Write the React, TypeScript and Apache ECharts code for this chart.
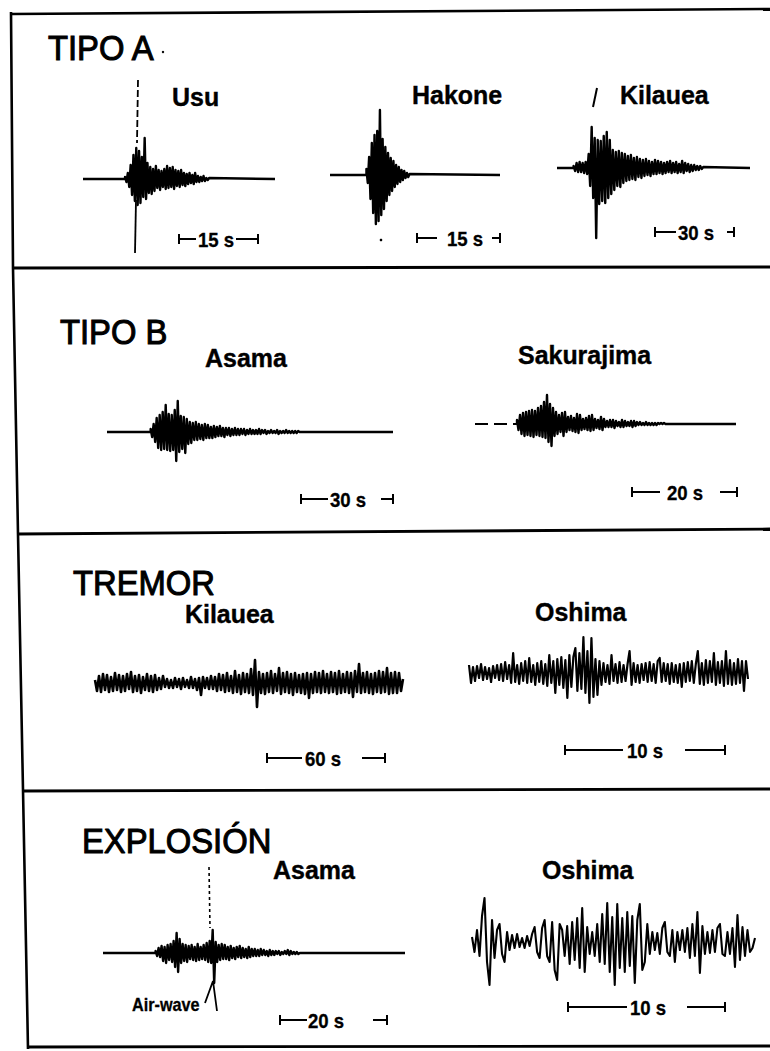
import React, { useEffect, useRef } from "react";
import * as echarts from "echarts";

// ---------------- DATA ----------------
const panelTitles = ["TIPO A", "TIPO B", "TREMOR", "EXPLOSIÓN"];
const stationNames = ["Usu", "Hakone", "Kilauea", "Asama", "Sakurajima", "Kilauea", "Oshima", "Asama", "Oshima"];
const scaleLabels = ["15 s", "15 s", "30 s", "30 s", "20 s", "60 s", "10 s", "20 s", "10 s"];
const airWaveLabel = "Air-wave";

// number of quiet (flat) samples before and after each recorded burst
const quietBefore = [30, 27, 11, 29, 28, 0, 0, 35, 0];
const quietAfter = [47, 67, 31, 62, 47, 0, 0, 70, 0];
const dashedLead = [false, false, false, false, true, false, false, false, false];

// TIPO A — Usu
const usuWave = [2, -3, 6, -8, 14, -16, 24, -22, 31, -26, 28, -24, 22, -18, 41, -20, 16, -14, 12, -15,
  10, -12, 13, -9, 9, -11, 8, -8, 10, -10, 13, -9, 11, -8, 12, -10, 9, -7, 8, -8,
  9, -6, 6, -7, 5, -5, 6, -4, 4, -5, 6, -3, 3, -3, 2, -2, 3, -2, 1, -1, 1];
// TIPO A — Hakone
const hakoneWave = [6, -8, 18, -24, 32, -38, 40, -49, 44, -46, 65, -40, 36, -34, 28, -26, 22, -20, 17, -16,
  14, -12, 10, -9, 8, -7, 5, -5, 4, -3, 2, -2, 1];
// TIPO A — Kilauea
const kilaueaAWave = [2, -3, 5, -4, 6, -4, 5, -5, 6, -6, 14, -18, 41, -30, 30, -70, 28, -36, 27, -33,
  32, -35, 36, -30, 28, -26, 18, -22, 16, -18, 17, -19, 15, -15, 14, -13, 12, -12, 13, -11,
  10, -12, 11, -9, 9, -10, 8, -8, 9, -7, 7, -8, 6, -6, 8, -6, 7, -5, 6, -6,
  5, -5, 6, -4, 7, -5, 5, -4, 6, -5, 4, -4, 7, -5, 5, -3, 4, -4, 3, -3,
  3, -2, 2, -2, 2, -1, 1];
// TIPO B — Asama
const asamaBWave = [3, -5, 8, -10, 14, -16, 17, -18, 20, -17, 27, -18, 18, -19, 17, -18, 22, -29, 31, -20,
  16, -17, 15, -21, 13, -12, 10, -11, 9, -8, 10, -8, 8, -7, 7, -8, 8, -6, 7, -6,
  5, -6, 6, -5, 5, -4, 6, -4, 4, -5, 4, -3, 4, -4, 3, -3, 4, -3, 3, -3,
  3, -2, 3, -3, 2, -2, 3, -2, 2, -2, 2, -2, 3, -2, 2, -1, 2, -2, 1, -1,
  2, -1, 1, -1, 2, -2, 1, -1, 1, -1, 2, -1, 1, -1, 1, -1, 1, -1, 1, 0];
// TIPO B — Sakurajima
const sakurajimaWave = [4, -6, 9, -10, 11, -12, 12, -11, 13, -12, 14, -13, 13, -11, 16, -12, 18, -13, 22, -14,
  29, -18, 20, -22, 16, -12, 12, -10, 9, -8, 11, -12, 12, -8, 7, -6, 8, -7, 6, -8,
  10, -9, 9, -6, 5, -5, 6, -6, 8, -7, 9, -6, 5, -4, 4, -5, 7, -6, 5, -3,
  3, -3, 4, -3, 4, -4, 3, -2, 2, -3, 4, -3, 3, -2, 2, -2, 3, -3, 3, -2,
  2, -1, 2, -1, 1, -1, 2, -1, 1, -1, 1, -1, 1, -1, 1, 0, 1, 0, 1, 0];
// TREMOR — Kilauea
const tremorKilaueaWave = [3, -8, 7, -9, 9, -7, 8, -9, 6, -8, 10, -7, 8, -9, 7, -8, 9, -6, 11, -9,
  7, -8, 8, -10, 6, -7, 9, -8, 7, -9, 8, -7, 5, -6, 7, -4, 4, -5, 3, -5,
  5, -4, 4, -6, 5, -4, 3, -5, 6, -5, 4, -7, 5, -12, 6, -5, 5, -6, 7, -6,
  6, -8, 9, -7, 8, -9, 10, -8, 7, -10, 12, -9, 8, -11, 10, -9, 9, -10, 14, -12,
  23, -24, 11, -10, 9, -11, 10, -9, 12, -10, 9, -8, 15, -11, 10, -9, 11, -10, 9, -12,
  10, -9, 8, -10, 9, -11, 10, -15, 9, -10, 11, -9, 10, -10, 12, -9, 9, -10, 11, -9,
  10, -11, 12, -10, 9, -9, 11, -10, 10, -14, 12, -9, 19, -10, 10, -9, 11, -10, 9, -11,
  10, -9, 12, -10, 11, -9, 15, -11, 10, -10, 11, -10, 10, -8, 4];
// TREMOR — Oshima
const tremorOshimaWave = [8, -10, 6, -8, 7, -5, 9, -7, 6, -6, 5, -9, 7, -5, 8, -7, 9, -8, 11, -6,
  8, -10, 20, -9, 8, -11, 10, -8, 12, -10, 15, -9, 8, -12, 10, -9, 12, -11, 9, -13,
  18, -10, 12, -20, 14, -12, 16, -15, 13, -25, 18, -14, 16, 25, -18, 20, -16, 36, -20, 22,
  -30, 35, -24, 14, -22, 12, -12, 10, -9, 8, -11, 18, -8, 9, -10, 11, -9, 8, -8, 9,
  22, -12, 10, -9, 8, -10, 9, -7, 10, -9, 11, -8, 9, -10, 12, 15, -9, 10, -8, 9,
  -11, 10, -9, 8, -10, 9, -14, 10, -9, 11, -8, 12, -10, 9, 22, -11, 10, -12, 13, -10,
  12, -9, 20, -12, 11, -10, 12, -13, 22, -11, 13, -12, 10, -11, 14, -10, 12, -18, 12, -6];
// EXPLOSIÓN — Asama
const explosionAsamaWave = [2, -3, 5, -4, 7, -8, 6, -10, 8, -7, 9, -9, 12, -14, 20, -19, 14, -10, 9, -8,
  8, -9, 7, -6, 8, -7, 6, -8, 9, -7, 6, -6, 8, -7, 10, -9, 12, -10, 23, -30,
  11, -9, 8, -7, 9, -6, 8, -6, 6, -7, 7, -5, 5, -6, 6, -4, 7, -5, 5, -4,
  4, -5, 6, -4, 4, -3, 4, -3, 3, -3, 4, -2, 3, -2, 2, -3, 3, -2, 2, -2,
  2, -1, 2, -2, 1, -1, 2, -1, 3, -2, 2, -1, 1, -1, 1, -1, 0];
// EXPLOSIÓN — Oshima
const explosionOshimaWave = [5, -10, 12, -14, 26, 44, -20, -43, 22, -16, 12, 18, -12, -20, 10, -8, 7, -6, 8, -5,
  4, -6, 6, -4, 8, 15, -10, -16, 14, 22, -14, -20, 20, -28, -38, 18, 12, -14, 16, -22,
  20, -18, 24, -26, 34, -30, 15, -12, 10, -14, 18, -20, 28, -22, 39, -30, 25, -43, 38, -26,
  24, -30, 30, -24, 26, -41, 22, 38, -28, -20, 18, -12, 10, -8, 9, -12, 14, 20, -10, -14,
  12, -20, 10, -8, 12, -10, 14, -16, 18, -14, 30, -31, 16, -12, 10, -11, 12, -10, 14, 18,
  -12, -14, 10, -12, 14, -25, 27, -18, 15, -14, 12, -10, -6, 4];

const waves = [usuWave, hakoneWave, kilaueaAWave, asamaBWave, sakurajimaWave,
  tremorKilaueaWave, tremorOshimaWave, explosionAsamaWave, explosionOshimaWave];

// ---------------- LAYOUT / STYLE (pixels) ----------------
const FONT = '"Liberation Sans", Arial, Helvetica, sans-serif';
const HALF = 80;
const traceLayout = [
  { left: 83, right: 275, base: 179, width: 2.4, fill: true },
  { left: 330, right: 500, base: 175, width: 2.4, fill: true },
  { left: 557, right: 750, base: 168, width: 2.4, fill: true },
  { left: 107, right: 393, base: 432, width: 2.4, fill: true },
  { left: 475, right: 736, base: 424, width: 2.4, fill: true },
  { left: 95, right: 403, base: 683, width: 2.6, fill: true },
  { left: 469, right: 748, base: 673, width: 2.2, fill: false },
  { left: 103, right: 405, base: 953, width: 2.4, fill: true },
  { left: 472, right: 755, base: 942, width: 2.1, fill: false },
];
const titleLayout = [
  { x: 48, y: 47 }, { x: 60, y: 331 }, { x: 73, y: 582 }, { x: 82, y: 840 },
];
const nameLayout = [
  { x: 172, y: 97 }, { x: 412, y: 95 }, { x: 620, y: 95 },
  { x: 205, y: 358 }, { x: 518, y: 355 },
  { x: 185, y: 614 }, { x: 535, y: 612 },
  { x: 273, y: 870 }, { x: 542, y: 870 },
];
const scaleLayout = [
  { y: 239, x0: 179, l1: 196, tx: 198, r0: 236, x1: 258 },
  { y: 238, x0: 417, l1: 437, tx: 447, r0: 492, x1: 500 },
  { y: 232, x0: 655, l1: 676, tx: 678, r0: 727, x1: 734 },
  { y: 499, x0: 301, l1: 328, tx: 330, r0: 381, x1: 393 },
  { y: 492, x0: 632, l1: 660, tx: 667, r0: 720, x1: 737 },
  { y: 758, x0: 267, l1: 302, tx: 305, r0: 362, x1: 385 },
  { y: 750, x0: 565, l1: 623, tx: 627, r0: 685, x1: 725 },
  { y: 1020, x0: 280, l1: 307, tx: 308, r0: 373, x1: 387 },
  { y: 1007, x0: 568, l1: 627, tx: 630, r0: 687, x1: 725 },
];

function buildTrace(k: number) {
  const w = waves[k];
  const pre = quietBefore[k];
  const post = quietAfter[k];
  const pts: number[][] = [];
  if (pre > 0 && !dashedLead[k]) pts.push([0, 0]);
  if (pre > 0) pts.push([pre, 0]);
  w.forEach((v, i) => pts.push([pre + i, v]));
  if (post > 0) pts.push([pre + w.length - 1 + post, 0]);
  return pts;
}

function txt(text: string, x: number, y: number, size: number, weight: string, sx: number, strokeW = 0) {
  const style: any = { text, fill: "#000", fontSize: size, fontWeight: weight, fontFamily: FONT, align: "left", verticalAlign: "middle" };
  if (strokeW > 0) { style.stroke = "#000"; style.lineWidth = strokeW; }
  return { type: "text", x, y, scaleX: sx, silent: true, style };
}
function ln(x1: number, y1: number, x2: number, y2: number, w: number, dash?: number[]) {
  return {
    type: "line", silent: true,
    shape: { x1, y1, x2, y2 },
    style: { stroke: "#000", lineWidth: w, lineDash: dash || null, lineCap: "butt" },
  };
}

function buildOption() {
  const grids: any[] = [];
  const xAxes: any[] = [];
  const yAxes: any[] = [];
  const series: any[] = [];
  traceLayout.forEach((L, k) => {
    const maxX = quietBefore[k] + waves[k].length - 1 + quietAfter[k];
    grids.push({ left: L.left, width: L.right - L.left, top: L.base - HALF, height: 2 * HALF, show: false });
    xAxes.push({ type: "value", gridIndex: k, min: 0, max: maxX, show: false });
    yAxes.push({ type: "value", gridIndex: k, min: -HALF, max: HALF, show: false });
    const s: any = {
      type: "line", xAxisIndex: k, yAxisIndex: k, data: buildTrace(k), symbol: "none", showSymbol: false,
      silent: true, clip: false,
      lineStyle: { color: "#000", width: L.width, join: "round" },
    };
    if (L.fill) s.areaStyle = { color: "#000", opacity: 1, origin: "auto" };
    series.push(s);
    if (dashedLead[k]) {
      series.push({
        type: "line", xAxisIndex: k, yAxisIndex: k, data: [[0, 0], [quietBefore[k], 0]], symbol: "none",
        silent: true, lineStyle: { color: "#000", width: 2, type: [13, 6] },
      });
    }
  });

  const g: any[] = [];
  // frame
  g.push({
    type: "polyline", silent: true,
    shape: { points: [[11, 12], [13, 268], [18, 534], [23, 790], [28, 1049]] },
    style: { stroke: "#000", lineWidth: 2.6, fill: null },
  });
  g.push(ln(11, 14, 770, 9, 2.6));
  g.push(ln(12, 268, 770, 267, 3));
  g.push(ln(17, 534, 770, 529, 2.8));
  g.push(ln(22, 791, 770, 789, 2.8));
  g.push(ln(27, 1047, 770, 1046, 2.8));

  panelTitles.forEach((t, i) => g.push(txt(t, titleLayout[i].x, titleLayout[i].y, 36, "normal", 0.91, 1.1)));
  stationNames.forEach((t, i) => g.push(txt(t, nameLayout[i].x, nameLayout[i].y, 26, "bold", 0.96, 0.4)));

  scaleLabels.forEach((t, i) => {
    const s = scaleLayout[i];
    g.push(ln(s.x0, s.y - 5, s.x0, s.y + 5, 2));
    g.push(ln(s.x0, s.y, s.l1, s.y, 2));
    g.push(txt(t, s.tx, s.y + 1, 20, "bold", 0.93, 0.3));
    g.push(ln(s.r0, s.y, s.x1, s.y, 2));
    g.push(ln(s.x1, s.y - 5, s.x1, s.y + 5, 2));
  });

  // Usu arrival marker
  g.push(ln(138, 80, 137, 143, 1.8, [7, 3]));
  g.push(ln(136, 200, 135, 253, 1.8));
  // Kilauea arrival tick
  g.push(ln(593, 107, 597, 88, 2));
  // explosion Asama air-wave marker
  g.push(ln(209, 867, 210, 928, 1.6, [3, 3]));
  g.push({
    type: "polyline", silent: true,
    shape: { points: [[205, 1003], [213, 981], [217, 1011]] },
    style: { stroke: "#000", lineWidth: 1.8, fill: null },
  });
  g.push(txt(airWaveLabel, 132, 1005, 18, "bold", 0.9, 0.3));
  // specks
  g.push({ type: "circle", silent: true, shape: { cx: 163, cy: 52, r: 1.2 }, style: { fill: "#000" } });
  g.push({ type: "circle", silent: true, shape: { cx: 381, cy: 240, r: 1.3 }, style: { fill: "#000" } });

  return {
    animation: false,
    backgroundColor: "#fff",
    grid: grids,
    xAxis: xAxes,
    yAxis: yAxes,
    series,
    graphic: { elements: g },
  };
}

export default function App() {
  const ref = useRef<HTMLDivElement>(null);
  useEffect(() => {
    if (!ref.current) return;
    const chart = echarts.init(ref.current, null, { renderer: "svg" });
    chart.setOption(buildOption() as any);
    return () => chart.dispose();
  }, []);
  return (
    <div
      ref={ref}
      style={{ position: "fixed", left: 0, top: 0, width: 770, height: 1051, background: "#fff" }}
    />
  );
}
